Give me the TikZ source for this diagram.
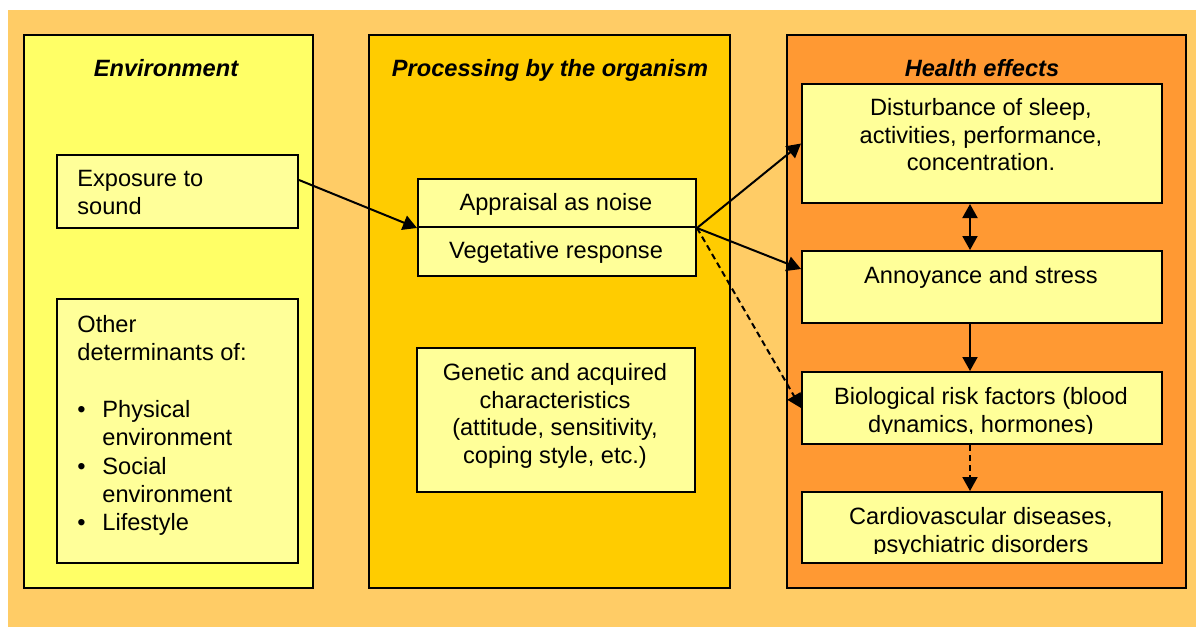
\documentclass[tikz,border=0pt]{standalone}
\usepackage{fontspec}
\setmainfont{Liberation Sans}
\usetikzlibrary{arrows.meta,calc}
\definecolor{bgc}{HTML}{FFCC66}
\definecolor{envc}{HTML}{FFFF66}
\definecolor{procc}{HTML}{FFCC00}
\definecolor{healthc}{HTML}{FF9933}
\definecolor{boxc}{HTML}{FFFF99}
\begin{document}
\begin{tikzpicture}[x=0.5pt,y=-0.5pt,
  >={Triangle[length=7pt,width=7.5pt]},
  col/.style={draw=black,line width=1pt,anchor=north west,inner sep=0pt,minimum height=276.5pt},
  box/.style={draw=black,line width=1pt,fill=boxc,anchor=north west,inner sep=0pt},
  txt/.style={inner sep=0pt,font=\fontsize{11.8}{13.8}\selectfont,align=center,anchor=north},
  ttl/.style={inner sep=0pt,font=\fontsize{11.8}{13.8}\selectfont\bfseries\itshape,anchor=base},
  arr/.style={line width=1pt,->},
  darr/.style={line width=1pt,->,dash pattern=on 3pt off 2pt}]
\useasboundingbox (0,0) rectangle (1196,627);
\fill[bgc] (8,10) rectangle (1196,627);

% columns
\node[col,fill=envc,minimum width=144.5pt] (envcol) at (23,34) {};
\node[col,fill=procc,minimum width=180.5pt] (proccol) at (368,34) {};
\node[col,fill=healthc,minimum width=199.5pt] (healthcol) at (786,34) {};

\node[ttl] (envt) at (166,76) {Environment};
\node[ttl] (proct) at (550,76) {Processing by the organism};
\node[ttl] (healtht) at (982,76) {Health effects};

% environment boxes
\node[box,minimum width=120.5pt,minimum height=36.5pt] (expo) at (56,154) {};
\node[txt,anchor=north west,align=left] (expot) at (77,170) {Exposure to\\sound};
\node[box,minimum width=120.5pt,minimum height=132pt] (other) at (56,298) {};
\node[txt,anchor=north west,align=left,font=\fontsize{11.8}{14.15}\selectfont] (othert) at (77,315) {Other\\determinants of:\\[14.15pt]
\makebox[12.5pt][l]{\textbullet}Physical\\\hspace*{12.5pt}environment\\
\makebox[12.5pt][l]{\textbullet}Social\\\hspace*{12.5pt}environment\\
\makebox[12.5pt][l]{\textbullet}Lifestyle};

% processing boxes
\node[box,minimum width=139pt,minimum height=24pt] (app) at (417,178) {};
\node[box,minimum width=139pt,minimum height=24.5pt] (veg) at (417,226) {};
\node[txt,anchor=base] (appt) at (556,210) {Appraisal as noise};
\node[txt,anchor=base] (vegt) at (556,258) {Vegetative response};
\node[box,minimum width=139pt,minimum height=72pt] (gen) at (416,347) {};
\node[txt] (gent) at (555,363) {Genetic and acquired\\characteristics\\(attitude, sensitivity,\\coping style, etc.)};

% health boxes
\node[box,minimum width=180pt,minimum height=59.5pt] (dist) at (801,83) {};
\node[txt] (distt) at (981,98) {Disturbance of sleep,\\activities, performance,\\concentration.};
\node[box,minimum width=180pt,minimum height=36pt] (ann) at (801,250) {};
\node[txt,anchor=base] (annt) at (981,283) {Annoyance and stress};
\node[box,minimum width=180pt,minimum height=36pt] (bio) at (801,371) {};
\begin{scope}
\clip (bio.north west) rectangle ($(bio.south east)+(0,-12)$);
\node[txt] (biot) at (981,387) {Biological risk factors (blood\\dynamics, hormones)};
\end{scope}
\node[box,minimum width=180pt,minimum height=35.5pt] (card) at (801,491) {};
\begin{scope}
\clip (card.north west) rectangle ($(card.south east)+(0,-11)$);
\node[txt] (cardt) at (981,507) {Cardiovascular diseases,\\psychiatric disorders};
\end{scope}

% connectors
\draw[arr] ($(expo.east)+(0,-11.5)$) -- (app.south west);
\draw[arr] (app.south east) -- (dist.west);
\draw[arr] (app.south east) -- ($(ann.west)+(0,-18)$);
\draw[darr] (app.south east) -- (bio.west);
\draw[line width=1pt,<->] ($(dist.south)+(-12,0)$) -- ($(ann.north)+(-12,0)$);
\draw[arr] ($(ann.south)+(-12,0)$) -- ($(bio.north)+(-12,0)$);
\draw[darr] ($(bio.south)+(-12,0)$) -- ($(card.north)+(-12,0)$);
\end{tikzpicture}
\end{document}
